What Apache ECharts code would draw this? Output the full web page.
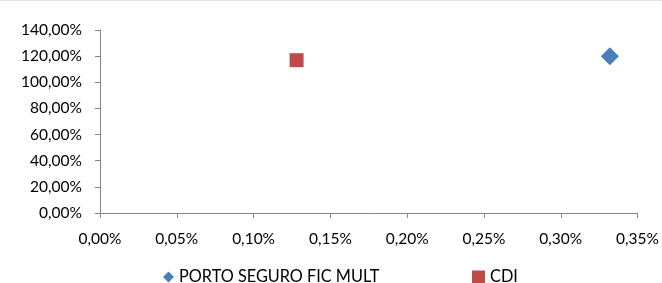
<!DOCTYPE html>
<html>
<head>
<meta charset="utf-8">
<script src="https://cdn.jsdelivr.net/npm/echarts@6/dist/echarts.min.js"></script>
<style>
html,body{margin:0;padding:0;background:#fff;}
#c{width:662px;height:283px;}
</style>
</head>
<body>
<div id="c"></div>
<script>
const seriesNames = ['PORTO SEGURO FIC MULT', 'CDI'];
const portoPoint = [0.332, 120.0];
const cdiPoint = [0.128, 116.9];
const xTicks = [0, 0.05, 0.10, 0.15, 0.20, 0.25, 0.30, 0.35];
const yTicks = [0, 20, 40, 60, 80, 100, 120, 140];

const fmt = (v, d) => v.toFixed(d).replace('.', ',') + '%';
const font = 'Lato';

const chart = echarts.init(document.getElementById('c'));
chart.setOption({
  animation: false,
  textStyle: { fontFamily: font },
  grid: { left: 100, right: 24, top: 30, bottom: 70, containLabel: false },
  graphic: [{ type: 'rect', shape: { x: 0, y: 0, width: 662, height: 1 }, style: { fill: '#f0dede' } }],
  xAxis: {
    type: 'value', min: xTicks[0], max: xTicks[xTicks.length - 1], interval: 0.05,
    axisLine: { show: true, lineStyle: { color: '#868686', width: 1 } },
    axisTick: { show: true, length: 5, lineStyle: { color: '#868686' } },
    splitLine: { show: false },
    axisLabel: { color: '#000', fontSize: 15.5, fontFamily: font, margin: 18, formatter: v => fmt(v, 2) }
  },
  yAxis: {
    type: 'value', min: yTicks[0], max: yTicks[yTicks.length - 1], interval: 20,
    axisLine: { show: true, lineStyle: { color: '#868686', width: 1 } },
    axisTick: { show: true, length: 5, lineStyle: { color: '#868686' } },
    splitLine: { show: false },
    axisLabel: { color: '#000', fontSize: 15.5, fontFamily: font, margin: 18, formatter: v => fmt(v, 2) }
  },
  legend: [
    { data: [{ name: seriesNames[0], icon: 'diamond' }], left: 163, top: 269, padding: 0, itemWidth: 11, itemHeight: 11, itemGap: 4,
      textStyle: { fontSize: 16.3, color: '#000', fontFamily: font } },
    { data: [{ name: seriesNames[1], icon: 'rect' }], left: 472, top: 269, padding: 0, itemWidth: 13, itemHeight: 13, itemGap: 2,
      textStyle: { fontSize: 16.3, color: '#000', fontFamily: font } }
  ],
  series: [
    { name: seriesNames[0], type: 'scatter', symbol: 'diamond', symbolSize: 18, data: [portoPoint],
      itemStyle: { color: '#4a7ebb', opacity: 1 } },
    { name: seriesNames[1], type: 'scatter', symbol: 'rect', symbolSize: 14, data: [cdiPoint],
      itemStyle: { color: '#be4b48', opacity: 1 } }
  ]
});
</script>
</body>
</html>
